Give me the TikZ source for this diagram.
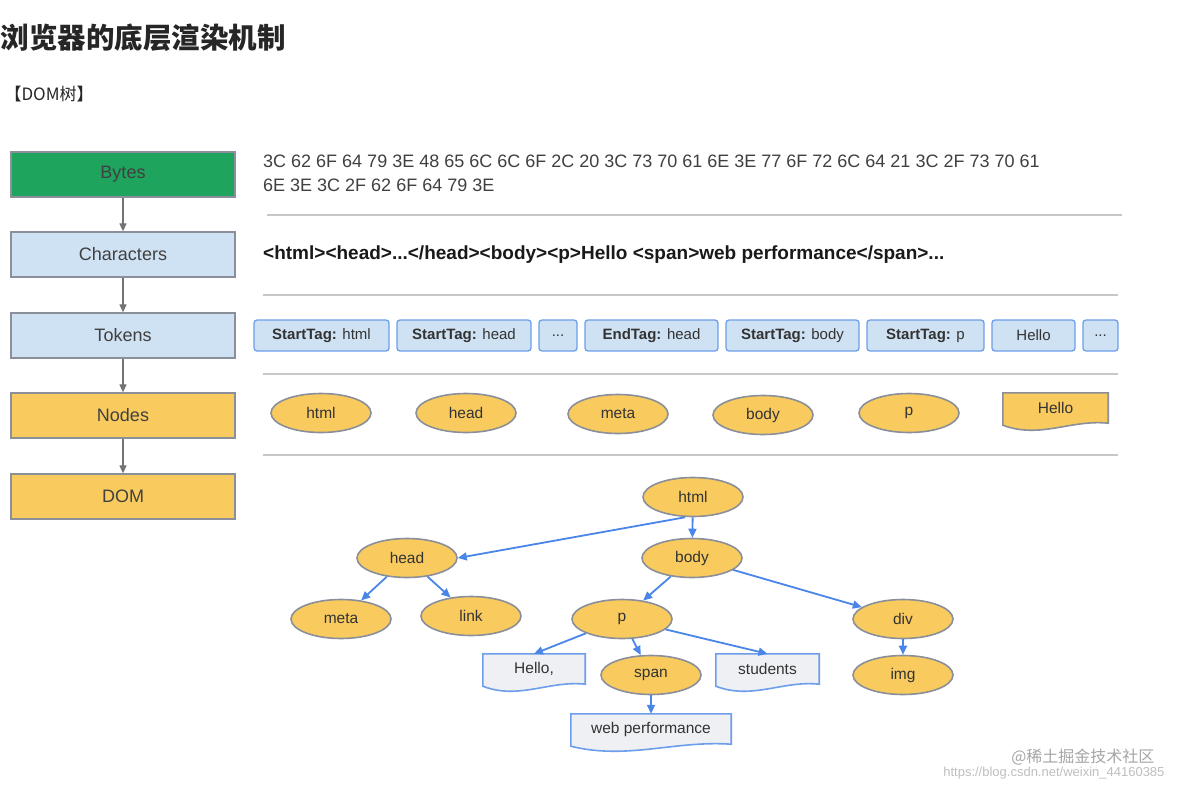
\documentclass[tikz,border=0pt]{standalone}
\usepackage{fontspec}
\setmainfont{Liberation Sans}
\newfontfamily\cjk{Noto Sans CJK SC}
\usetikzlibrary{shapes.geometric,arrows.meta,calc}
\definecolor{bgreen}{HTML}{1FA45E}
\definecolor{lblue}{HTML}{CFE2F3}
\definecolor{tblue}{HTML}{6D9EEB}
\definecolor{eblue}{HTML}{4A86E8}
\definecolor{yel}{HTML}{F9CB5F}
\definecolor{bord}{HTML}{8A8F99}
\definecolor{docfill}{HTML}{EEF0F4}
\tikzset{
 stage/.style={draw=bord,line width=1.3pt,minimum width=224pt,minimum height=45pt,font=\fontsize{18}{20}\selectfont,text=black!75},
 tok/.style={draw=tblue,fill=lblue,line width=1.3pt,rounded corners=3pt,minimum height=31pt,inner sep=0pt,font=\fontsize{15}{17}\selectfont,text=black!80},
 ell/.style={ellipse,draw=bord,fill=yel,line width=1.6pt,minimum width=100pt,minimum height=39pt,inner sep=0pt,font=\fontsize{15.5}{17}\selectfont,text=black!80},
 sep/.style={draw=black!22,line width=1.3pt},
 garr/.style={draw=black!55,line width=1.2pt,-{Triangle[length=8pt,width=7pt]}},
 barr/.style={draw=eblue,line width=1.8pt,-{Triangle[length=9pt,width=8pt]}},
}
\newcommand{\docnode}[7]{% name cx cy w h text style
 \node[minimum width=#4pt,minimum height=#5pt,inner sep=0pt] (#1) at (#2,#3) {};
 \path[#7] ($(#1.south west)+(0,-2)$) -- (#1.north west) -- (#1.north east) -- ($(#1.south east)+(0,-4)$)
   .. controls ($(#1.south east)!0.35!(#1.south west)+(0,-8)$) and ($(#1.south east)!0.65!(#1.south west)+(0,12)$) .. ($(#1.south west)+(0,-2)$) -- cycle;
 \node[font=\fontsize{15.5}{17}\selectfont,text=black!80] at ($(#1)+(0,-2)$) {#6};
}
\begin{document}
\begin{tikzpicture}[x=1pt,y=-1pt]
\useasboundingbox[fill=white] (0,0) rectangle (1178,790);
% title
\node[anchor=west,font=\cjk\bfseries\fontsize{28.5}{31}\selectfont,text=black!85] (title) at (-3,38) {浏览器的底层渲染机制};
\node[anchor=west,font=\cjk\fontsize{17}{19}\selectfont,text=black!85] (sub) at (1,94) {【DOM树】};
% stages
\node[stage,fill=bgreen] (bytes) at (123,174.5) {Bytes};
\node[stage,fill=lblue] (chars) at (123,254.5) {Characters};
\node[stage,fill=lblue] (tokens) at (123,335.5) {Tokens};
\node[stage,fill=yel] (nodes) at (123,415.5) {Nodes};
\node[stage,fill=yel] (dom) at (123,496.5) {DOM};
\draw[garr] (bytes) -- (chars);
\draw[garr] (chars) -- (tokens);
\draw[garr] (tokens) -- (nodes);
\draw[garr] (nodes) -- (dom);
% bytes text
\node[anchor=west,align=left,font=\fontsize{18}{24}\selectfont,text=black!75,inner sep=0pt] (hex) at (263,173) {3C 62 6F 64 79 3E 48 65 6C 6C 6F 2C 20 3C 73 70 61 6E 3E 77 6F 72 6C 64 21 3C 2F 73 70 61\\6E 3E 3C 2F 62 6F 64 79 3E};
\coordinate (s1a) at (267,215); \coordinate (s1b) at (1122,215);
\draw[sep] (s1a) -- (s1b);
\node[anchor=west,font=\bfseries\fontsize{19}{21}\selectfont,text=black!90,inner sep=0pt] (chtext) at (263,255) {<html><head>...</head><body><p>Hello <span>web performance</span>...};
\coordinate (s2a) at (263,295); \coordinate (s2b) at (1118,295);
\draw[sep] (s2a) -- (s2b);
% tokens
\node[tok,minimum width=135pt] (t1) at (321.5,335.5) {\textbf{StartTag:} html};
\node[tok,minimum width=134pt] (t2) at (464,335.5) {\textbf{StartTag:} head};
\node[tok,minimum width=38pt] (t3) at (558,335.5) {...};
\node[tok,minimum width=133pt] (t4) at (651.5,335.5) {\textbf{EndTag:} head};
\node[tok,minimum width=133pt] (t5) at (792.5,335.5) {\textbf{StartTag:} body};
\node[tok,minimum width=117pt] (t6) at (925.5,335.5) {\textbf{StartTag:} p};
\node[tok,minimum width=83pt] (t7) at (1033.5,335.5) {Hello};
\node[tok,minimum width=35pt] (t8) at (1100.5,335.5) {...};
\coordinate (s3a) at (263,374); \coordinate (s3b) at (1118,374);
\draw[sep] (s3a) -- (s3b);
% nodes
\node[ell] (n1) at (321,413) {html};
\node[ell] (n2) at (466,413) {head};
\node[ell] (n3) at (618,414) {meta};
\node[ell] (n4) at (763,415) {body};
\node[ell] (n5) at (909,413) {p};
\docnode{n6}{1055.5}{410}{105}{34}{Hello}{draw=bord,fill=yel,line width=1.6pt}
\coordinate (s4a) at (263,455); \coordinate (s4b) at (1118,455);
\draw[sep] (s4a) -- (s4b);
% tree
\node[ell] (html) at (693,497) {html};
\node[ell] (head) at (407,558) {head};
\node[ell] (body) at (692,558) {body};
\node[ell] (meta) at (341,619) {meta};
\node[ell] (link) at (471,616) {link};
\node[ell] (p) at (622,619) {p};
\node[ell] (div) at (903,619) {div};
\node[ell] (span) at (651,675) {span};
\node[ell] (img) at (903,675) {img};
\docnode{hello}{534}{671}{102}{34}{Hello,}{draw=tblue,fill=docfill,line width=1.6pt}
\docnode{stud}{767.5}{671}{103}{34}{students}{draw=tblue,fill=docfill,line width=1.6pt}
\docnode{webp}{651}{731}{160}{34}{web performance}{draw=tblue,fill=docfill,line width=1.6pt}
\draw[barr] (html.south) ++(-8,0) coordinate (hs) -- (head.east);
\draw[barr] (html) -- (body);
\draw[barr] (head) -- (meta);
\draw[barr] (head) -- (link);
\draw[barr] (body) -- (p);
\draw[barr] (body) -- (div);
\draw[barr] (p) -- (hello.north);
\draw[barr] (p) -- (span);
\draw[barr] (p) -- (stud.north);
\draw[barr] (span) -- (webp.north);
\draw[barr] (div) -- (img);
% watermark
\node[anchor=east,font=\cjk\fontsize{16}{18}\selectfont,text=black!35] (wm1) at (1158,757) {@稀土掘金技术社区};
\node[anchor=east,font=\fontsize{13}{15}\selectfont,text=black!25] (wm2) at (1168,773) {https://blog.csdn.net/weixin\_44160385};
\end{tikzpicture}
\end{document}
